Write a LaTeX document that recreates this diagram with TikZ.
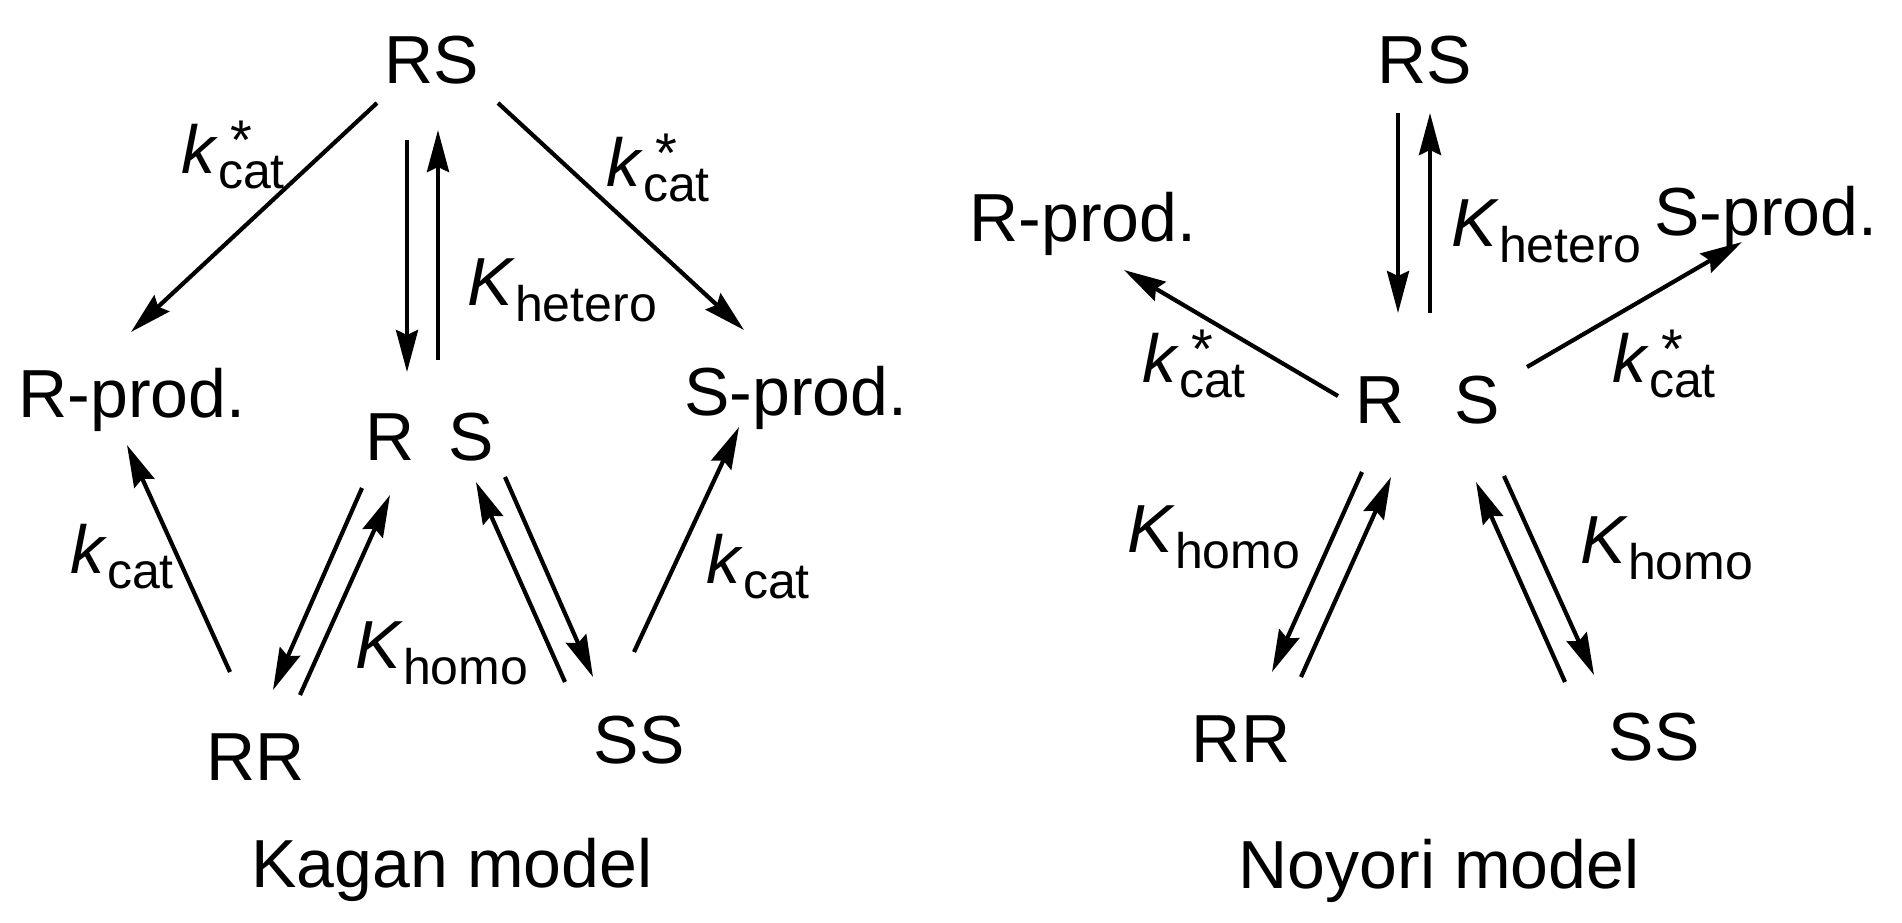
\documentclass[tikz,border=0pt]{standalone}
\usepackage{fontspec}
\setmainfont{Liberation Sans}
\usetikzlibrary{arrows.meta}
\newcommand\subsz{\fontsize{50}{50}\selectfont}
\newcommand\kcatstar{\textit{k}\rlap{\kern12pt\raisebox{14pt}{\fontsize{56}{56}\selectfont *}}\raisebox{-15pt}{\subsz cat}}
\newcommand\kcatplain{\textit{k}\raisebox{-15pt}{\subsz cat}}
\newcommand\Kof[1]{\textit{K}\raisebox{-16pt}{\subsz #1}}
\begin{document}
\begin{tikzpicture}[x=1pt,y=-1pt,
  lbl/.style={font=\fontsize{68}{68}\selectfont, inner sep=0pt, anchor=base},
  rl/.style={font=\fontsize{68}{68}\selectfont, inner sep=0pt, anchor=base west},
  arr/.style={line width=4.2pt, -{Stealth[length=42pt,width=22pt,inset=5pt]}}]
\fill[white] (0,0) rectangle (1902,922);
\useasboundingbox (0,0) rectangle (1902,922);

% ---------------- Kagan model ----------------
\node[lbl] (kRS) at (432,83) {RS};
\node[lbl] (kRp) at (132,417) {R-prod.};
\node[lbl] (kSp) at (796,415) {S-prod.};
\node[lbl] (kR) at (390,460) {R};
\node[lbl] (kS) at (471,460) {S};
\node[lbl] (kRR) at (256,780) {RR};
\node[lbl] (kSS) at (639,763) {SS};
\node[lbl] (kcap) at (452,887) {Kagan model};

\node[rl] (kl1) at (181,173) {\kcatstar};
\node[rl] (kl2) at (606,186) {\kcatstar};
\node[rl] (kl3) at (467,305) {\Kof{hetero}};
\node[rl] (kl4) at (70,573) {\kcatplain};
\node[rl] (kl5) at (355,668) {\Kof{homo}};
\node[rl] (kl6) at (706,583) {\kcatplain};

\coordinate (ka1) at (377,103); \coordinate (ka2) at (131,332);
\coordinate (kb1) at (498,103); \coordinate (kb2) at (744,330);
\coordinate (kc1) at (407,140); \coordinate (kc2) at (407,372);
\coordinate (kd1) at (438,360); \coordinate (kd2) at (438,130);
\coordinate (ke1) at (230,672); \coordinate (ke2) at (127,445);
\coordinate (kf1) at (362,488); \coordinate (kf2) at (273,690);
\coordinate (kg1) at (300,695); \coordinate (kg2) at (390,495);
\coordinate (kh1) at (565,682); \coordinate (kh2) at (476,482);
\coordinate (ki1) at (505,477); \coordinate (ki2) at (593,677);
\coordinate (kj1) at (634,652); \coordinate (kj2) at (739,427);

\draw[arr] (ka1) -- (ka2);
\draw[arr] (kb1) -- (kb2);
\draw[arr] (kc1) -- (kc2);
\draw[arr] (kd1) -- (kd2);
\draw[arr] (ke1) -- (ke2);
\draw[arr] (kf1) -- (kf2);
\draw[arr] (kg1) -- (kg2);
\draw[arr] (kh1) -- (kh2);
\draw[arr] (ki1) -- (ki2);
\draw[arr] (kj1) -- (kj2);

% ---------------- Noyori model ----------------
\node[lbl] (nRS) at (1425,83) {RS};
\node[lbl] (nRp) at (1083,241) {R-prod.};
\node[lbl] (nSp) at (1766,235) {S-prod.};
\node[lbl] (nR) at (1380,423) {R};
\node[lbl] (nS) at (1477,423) {S};
\node[lbl] (nRR) at (1241,762) {RR};
\node[lbl] (nSS) at (1654,760) {SS};
\node[lbl] (ncap) at (1439,888) {Noyori model};

\node[rl] (nl1) at (1451,246) {\Kof{hetero}};
\node[rl] (nl2) at (1142,382) {\kcatstar};
\node[rl] (nl3) at (1612,382) {\kcatstar};
\node[rl] (nl4) at (1127,552) {\Kof{homo}};
\node[rl] (nl5) at (1580,563) {\Kof{homo}};

\coordinate (na1) at (1398,113); \coordinate (na2) at (1398,313);
\coordinate (nb1) at (1430,313); \coordinate (nb2) at (1430,113);
\coordinate (nc1) at (1338,396); \coordinate (nc2) at (1124,270);
\coordinate (nd1) at (1527,367); \coordinate (nd2) at (1742,242);
\coordinate (ne1) at (1362,472); \coordinate (ne2) at (1272,672);
\coordinate (nf1) at (1301,677); \coordinate (nf2) at (1391,477);
\coordinate (ng1) at (1565,682); \coordinate (ng2) at (1476,482);
\coordinate (nh1) at (1504,476); \coordinate (nh2) at (1594,675);

\draw[arr] (na1) -- (na2);
\draw[arr] (nb1) -- (nb2);
\draw[arr] (nc1) -- (nc2);
\draw[arr] (nd1) -- (nd2);
\draw[arr] (ne1) -- (ne2);
\draw[arr] (nf1) -- (nf2);
\draw[arr] (ng1) -- (ng2);
\draw[arr] (nh1) -- (nh2);
\end{tikzpicture}
\end{document}
